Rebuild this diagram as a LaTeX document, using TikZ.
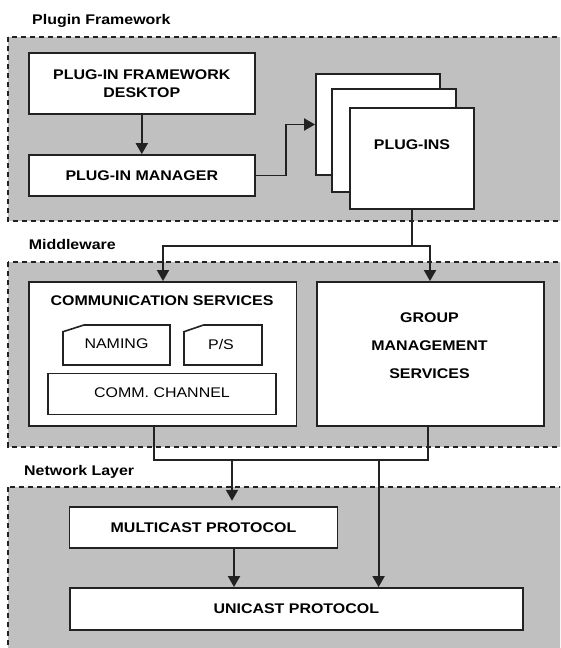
\documentclass[tikz,border=0pt]{standalone}
\usepackage{fontspec}
\setmainfont{Liberation Sans}[FakeStretch=1.14]
\usetikzlibrary{arrows.meta}
\definecolor{panelgray}{HTML}{C0C0C0}
\definecolor{ink}{HTML}{222222}
\begin{document}
\begin{tikzpicture}[x=1pt,y=-1pt,
  panel/.style={fill=panelgray, draw=ink, line width=2pt, dash pattern=on 5pt off 4pt},
  box/.style={draw=ink, fill=white, line width=1.8pt, inner sep=0pt},
  shapebox/.style={draw=ink, fill=white, line width=1.6pt},
  btext/.style={font=\fontsize{14pt}{17pt}\selectfont\bfseries, inner sep=0pt, align=center},
  rtext/.style={font=\fontsize{14pt}{17pt}\selectfont, inner sep=0pt},
  lbl/.style={font=\fontsize{14pt}{17pt}\selectfont\bfseries, inner sep=0pt, anchor=base west},
  conn/.style={draw=ink, line width=1.9pt},
  arr/.style={conn, -{Triangle[width=12pt,length=11pt]}}
]
\useasboundingbox (0,0) rectangle (560,648);
\clip (0,0) rectangle (560,648);

% panels
\draw[panel] (8,37) rectangle (580,221);
\draw[panel] (8,262) rectangle (580,446.7);
\draw[panel] (8,487) rectangle (580,670);

% panel labels
\node[lbl] (lpf) at (32,24) {Plugin Framework};
\node[lbl] (lmw) at (28.6,249) {Middleware};
\node[lbl] (lnl) at (24,475.7) {Network Layer};

% plugin framework
\node[box, btext, font=\fontsize{14pt}{18pt}\selectfont\bfseries, minimum width=226.4pt, minimum height=61pt] (desk) at (141.8,83.5) {PLUG-IN FRAMEWORK\\DESKTOP};
\node[box, btext, minimum width=226.4pt, minimum height=41pt] (mgr) at (141.8,175.5) {PLUG-IN MANAGER};
\node[box, minimum width=124pt, minimum height=101pt] (pback) at (378,124.5) {};
\node[box, minimum width=124pt, minimum height=103pt] (pmid) at (394,140.5) {};
\node[box, minimum width=124pt, minimum height=101pt] (pfront) at (412,158.5) {};
\node[btext] (ptext) at (412,145) {PLUG-INS};

% middleware
\node[box, minimum width=267.8pt, minimum height=144pt] (comm) at (162.5,354) {};
\node[btext] (commt) at (162,300.7) {COMMUNICATION SERVICES};
\filldraw[shapebox] (63,331.7) -- (84,325) -- (170,325) -- (170,365) -- (63,365) -- cycle;
\node[rtext] (naming) at (116.5,344) {NAMING};
\filldraw[shapebox] (184,331.7) -- (203.6,325) -- (262,325) -- (262,365) -- (184,365) -- cycle;
\node[rtext] (ps) at (221,344) {P/S};
\node[box, minimum width=228pt, minimum height=41pt] (chan) at (162,394) {};
\node[rtext] (chant) at (162,392.5) {COMM. CHANNEL};
\node[box, minimum width=226.6pt, minimum height=144pt] (grp) at (430.3,354) {};
\node[btext, font=\fontsize{14pt}{28pt}\selectfont\bfseries] (grpt) at (429.5,346) {GROUP\\MANAGEMENT\\SERVICES};

% network layer
\node[box, btext, minimum width=268pt, minimum height=41pt] (multi) at (203.5,527.2) {MULTICAST PROTOCOL};
\node[box, btext, minimum width=453.4pt, minimum height=42pt] (uni) at (296.3,609) {UNICAST PROTOCOL};

% connectors
\draw[arr] (desk.south) -- (mgr.north);
\draw[arr] (mgr.east) -- ++(30,0) |- (pback.west);

\coordinate (jt) at (412,246);
\coordinate (jl) at (163,246);
\coordinate (jr) at (430,246);
\draw[conn] (pfront.south) -- (jt);
\draw[arr] (jt) -- (jl) -- (jl |- comm.north);
\draw[arr] (jt) -- (jr) -- (jr |- grp.north);

\coordinate (hl) at (153.6,460);
\coordinate (hr) at (428,460);
\draw[conn] (comm.south -| hl) -- (hl) -- (hr) -- (grp.south -| hr);
\coordinate (ml) at (232,460);
\coordinate (ur) at (378.6,460);
\draw[arr, shorten >=5pt] (ml) -- (ml |- multi.north);
\draw[arr] (ur) -- (ur |- uni.north);
\draw[arr] ([xshift=30.5pt]multi.south) -- ([xshift=30.5pt]multi.south |- uni.north);
\end{tikzpicture}
\end{document}
